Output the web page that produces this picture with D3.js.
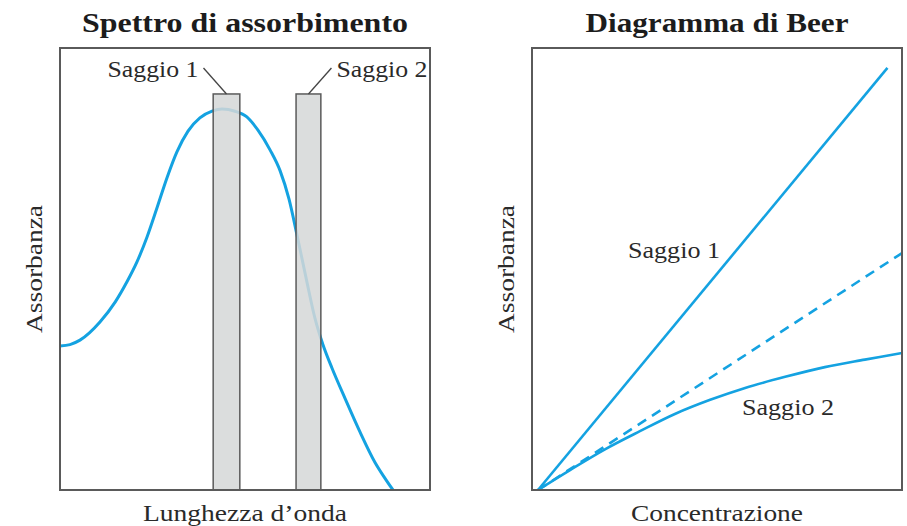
<!DOCTYPE html>
<html>
<head>
<meta charset="utf-8">
<script src="https://cdn.jsdelivr.net/npm/d3@7"></script>
<style>
  html, body { margin: 0; padding: 0; background: #fff; }
  svg { display: block; }
  text { font-family: "Liberation Serif", "Times New Roman", serif; fill: #2a2a2a; }
</style>
</head>
<body>
<svg id="chart" width="907" height="526"></svg>
<script>
// ---- Spettro di assorbimento: wavelength (arbitrary units) vs absorbance
const spectrumWavelength = [0, 2.7, 5.4, 10.8, 14.9, 18.1, 20.8, 23.5, 26.2, 28.9, 31.6, 34.6, 37.8, 41.1, 43.8, 47.3, 50.5, 53.5, 56.8, 59.5, 61.9, 64.1, 66.5, 68.9, 71.1, 73.5, 77.0, 81.1, 85.1, 87.8, 90.0];
const spectrumAbsorbance = [0.326, 0.329, 0.339, 0.380, 0.425, 0.471, 0.516, 0.572, 0.638, 0.706, 0.765, 0.812, 0.842, 0.857, 0.862, 0.857, 0.844, 0.814, 0.769, 0.722, 0.658, 0.575, 0.480, 0.389, 0.328, 0.276, 0.208, 0.131, 0.063, 0.027, 0.000];

// measurement bands (wavelength windows) used by the two assays
const bandNames = ["Saggio 1", "Saggio 2"];
const bandStart = [41.4, 63.8];
const bandEnd = [48.6, 70.5];
const bandTop = 0.896;

// ---- Diagramma di Beer: concentration vs absorbance
const saggio1Conc = [0, 9.6];
const saggio1Abs = [0, 9.55];
const idealConc = [0, 10];          // ideal linear response (dashed)
const idealAbs = [0, 5.36];
const saggio2Conc = [0, 0.88, 1.84, 2.80, 3.76, 4.73, 5.69, 6.79, 7.88, 8.98, 10];
const saggio2Abs = [0, 0.45, 0.92, 1.33, 1.72, 2.04, 2.31, 2.56, 2.78, 2.95, 3.10];

const titles = ["Spettro di assorbimento", "Diagramma di Beer"];
const xTitles = ["Lunghezza d\u2019onda", "Concentrazione"];
const yTitle = "Assorbanza";

const BLUE = "#14a2e1";
const FRAME = "#5a5a5a";

const svg = d3.select("#chart");

// stretch a text node horizontally to a target width (the serif face used is narrower)
function fitWidth(sel, w) {
  sel.attr("textLength", w).attr("lengthAdjust", "spacingAndGlyphs");
  return sel;
}

const panels = [
  { left: 60, right: 430, top: 48, bottom: 490 },
  { left: 532, right: 902, top: 48, bottom: 490 }
];

// ================= Left panel =================
{
  const p = panels[0];
  const x = d3.scaleLinear().domain([0, 100]).range([p.left, p.right]);
  const y = d3.scaleLinear().domain([0, 1]).range([p.bottom, p.top]);
  const g = svg.append("g");

  const spectrum = spectrumWavelength.map((w, i) => [w, spectrumAbsorbance[i]]);
  g.append("path")
    .datum(spectrum)
    .attr("fill", "none")
    .attr("stroke", BLUE)
    .attr("stroke-width", 3)
    .attr("d", d3.line().x(d => x(d[0])).y(d => y(d[1])).curve(d3.curveMonotoneX));

  // bands drawn over the curve, semi-opaque
  const bands = bandNames.map((n, i) => ({ name: n, x0: bandStart[i], x1: bandEnd[i] }));
  g.selectAll("rect.band").data(bands).join("rect")
    .attr("class", "band")
    .attr("x", d => x(d.x0))
    .attr("width", d => x(d.x1) - x(d.x0))
    .attr("y", y(bandTop))
    .attr("height", y(0) - y(bandTop))
    .attr("fill", "#d5d7d7")
    .attr("fill-opacity", 0.86)
    .attr("stroke", FRAME)
    .attr("stroke-width", 1.5);

  // leader lines and labels above the bands
  bands.forEach((d, i) => {
    const cx = (x(d.x0) + x(d.x1)) / 2;
    const top = y(bandTop);
    const dir = i === 0 ? -1 : 1;
    g.append("line")
      .attr("x1", cx).attr("y1", top)
      .attr("x2", cx + dir * 23).attr("y2", top - 26)
      .attr("stroke", "#444").attr("stroke-width", 1.3);
    const t = g.append("text")
      .attr("x", cx + dir * 28)
      .attr("y", top - 17)
      .attr("text-anchor", i === 0 ? "end" : "start")
      .attr("font-size", 23)
      .text(d.name);
    fitWidth(t, 91);
  });

  g.append("rect")
    .attr("x", p.left).attr("y", p.top)
    .attr("width", p.right - p.left).attr("height", p.bottom - p.top)
    .attr("fill", "none").attr("stroke", FRAME).attr("stroke-width", 2);
}

// ================= Right panel =================
{
  const p = panels[1];
  const x = d3.scaleLinear().domain([0, 10]).range([p.left + 6, p.right]);
  const y = d3.scaleLinear().domain([0, 10]).range([p.bottom, p.top]);
  const g = svg.append("g");
  const line = d3.line().x(d => x(d[0])).y(d => y(d[1]));

  const zip = (a, b) => a.map((v, i) => [v, b[i]]);

  g.append("path").datum(zip(idealConc, idealAbs))
    .attr("fill", "none").attr("stroke", BLUE).attr("stroke-width", 2.6)
    .attr("stroke-dasharray", "10,7")
    .attr("d", line);

  g.append("path").datum(zip(saggio1Conc, saggio1Abs))
    .attr("fill", "none").attr("stroke", BLUE).attr("stroke-width", 2.6)
    .attr("d", line);

  g.append("path").datum(zip(saggio2Conc, saggio2Abs))
    .attr("fill", "none").attr("stroke", BLUE).attr("stroke-width", 2.6)
    .attr("d", line.curve(d3.curveCatmullRom.alpha(0.5)));

  fitWidth(g.append("text").attr("x", 628).attr("y", 258).attr("font-size", 23).text("Saggio 1"), 92);
  fitWidth(g.append("text").attr("x", 742).attr("y", 415).attr("font-size", 23).text("Saggio 2"), 92);

  g.append("rect")
    .attr("x", p.left).attr("y", p.top)
    .attr("width", p.right - p.left).attr("height", p.bottom - p.top)
    .attr("fill", "none").attr("stroke", FRAME).attr("stroke-width", 2);
}

// ================= Titles and axis labels =================
const titleWidths = [326, 263];
panels.forEach((p, i) => {
  const cx = (p.left + p.right) / 2;
  fitWidth(svg.append("text")
    .attr("x", cx).attr("y", 32)
    .attr("text-anchor", "middle")
    .attr("font-size", 28)
    .attr("font-weight", "bold")
    .style("fill", "#1c1c1c")
    .text(titles[i]), titleWidths[i]);

  fitWidth(svg.append("text")
    .attr("x", cx).attr("y", 521)
    .attr("text-anchor", "middle")
    .attr("font-size", 24)
    .text(xTitles[i]), i === 0 ? 204 : 172);

  const ly = (p.top + p.bottom) / 2;
  fitWidth(svg.append("text")
    .attr("transform", `translate(${p.left - 18},${ly}) rotate(-90)`)
    .attr("text-anchor", "middle")
    .attr("font-size", 24)
    .text(yTitle), 128);
});
</script>
</body>
</html>
